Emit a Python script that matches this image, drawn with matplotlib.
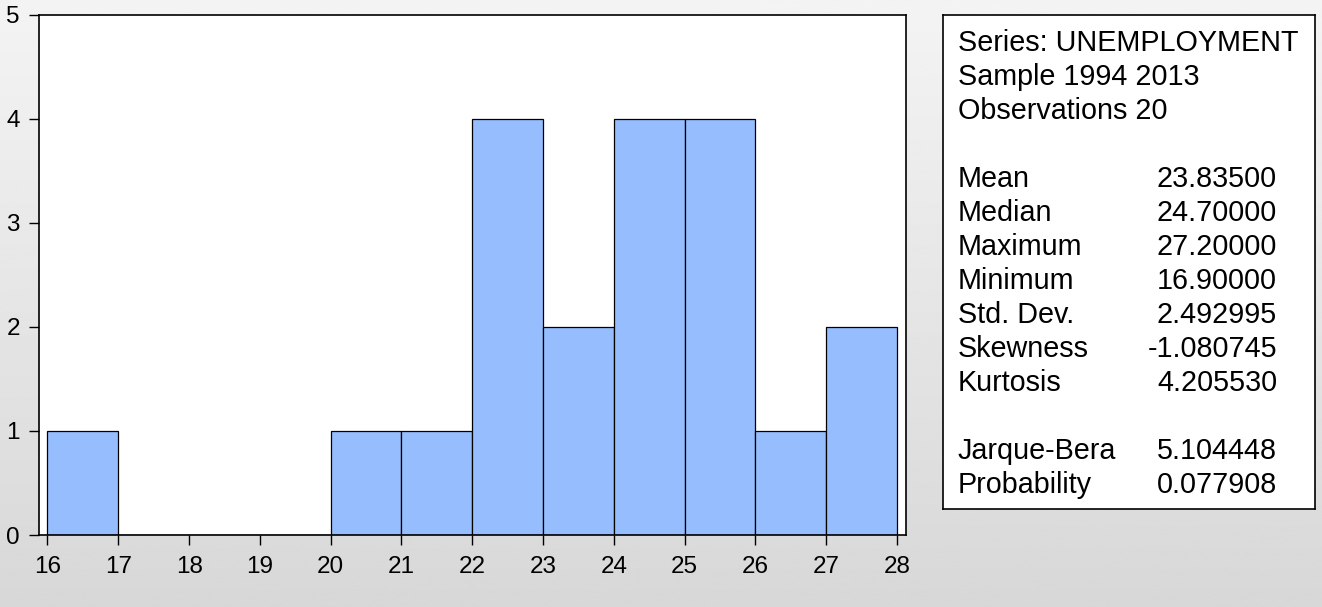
import numpy as np
import matplotlib
matplotlib.use("Agg")
import matplotlib.pyplot as plt

plt.rcParams['font.family'] = ['Liberation Sans', 'DejaVu Sans']

# datos del histograma
bordes = [16, 17, 18, 19, 20, 21, 22, 23, 24, 25, 26, 27, 28]
frecuencias = [1, 0, 0, 0, 1, 1, 4, 2, 4, 4, 1, 2]

etiquetas_stats = ["Mean", "Median", "Maximum", "Minimum", "Std. Dev.",
                   "Skewness", "Kurtosis"]
valores_stats = ["23.83500", "24.70000", "27.20000", "16.90000", "2.492995",
                 "-1.080745", "4.205530"]
etiquetas_jb = ["Jarque-Bera", "Probability"]
valores_jb = ["5.104448", "0.077908"]
encabezado = ["Series: UNEMPLOYMENT", "Sample 1994 2013", "Observations 20"]

W, H = 1322, 607
fig = plt.figure(figsize=(W / 100, H / 100), dpi=100)

# fondo degradado gris
fondo = fig.add_axes([0, 0, 1, 1])
grad = np.linspace(0.955, 0.845, 256).reshape(-1, 1)
fondo.imshow(grad, aspect="auto", cmap="gray", vmin=0, vmax=1,
             extent=[0, 1, 0, 1])
fondo.set_axis_off()


def px(x0, y0, x1, y1):
    return [x0 / W, 1 - y1 / H, (x1 - x0) / W, (y1 - y0) / H]


ax = fig.add_axes(px(38.5, 14.5, 906, 535))
ax.set_facecolor("white")
anchos = np.diff(bordes)
ax.bar(bordes[:-1], frecuencias, width=anchos, align="edge",
       color="#96bdfe", edgecolor="black", linewidth=0.9)
ax.set_xlim(15.873, 28.127)
ax.set_ylim(0, 5)
ax.set_xticks(bordes)
ax.set_yticks(range(6))
ax.tick_params(direction="out", length=7.5, width=1, labelsize=17.5,
               colors="black")
ax.tick_params(axis="x", pad=7.5)
ax.tick_params(axis="y", pad=6)
for s in ax.spines.values():
    s.set_linewidth(1.2)

# caja de estadísticas
caja = fig.add_axes(px(943, 15, 1315, 509))
caja.set_xlim(0, 1)
caja.set_ylim(0, 1)
caja.set_xticks([])
caja.set_yticks([])
caja.set_facecolor("white")
for s in caja.spines.values():
    s.set_linewidth(1.2)

x_izq = 958 / W
x_der = 1277 / W
paso = 34
tam = 20.7
y = 43
for t in encabezado:
    fig.text(x_izq, 1 - y / H, t, fontsize=tam, va="center", ha="left")
    y += paso
y += paso
for et, val in zip(etiquetas_stats, valores_stats):
    fig.text(x_izq, 1 - y / H, et, fontsize=tam, va="center", ha="left")
    fig.text(x_der, 1 - y / H, val, fontsize=tam, va="center", ha="right")
    y += paso
y += paso
for et, val in zip(etiquetas_jb, valores_jb):
    fig.text(x_izq, 1 - y / H, et, fontsize=tam, va="center", ha="left")
    fig.text(x_der, 1 - y / H, val, fontsize=tam, va="center", ha="right")
    y += paso

fig.savefig("out.png", dpi=100)
